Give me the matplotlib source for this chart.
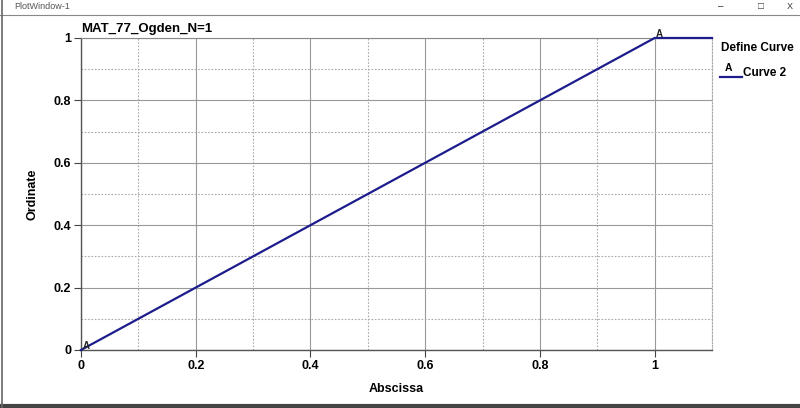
import matplotlib
matplotlib.use("Agg")
import matplotlib.pyplot as plt
from matplotlib.ticker import MultipleLocator

plt.rcParams['font.family'] = ['Liberation Sans', 'DejaVu Sans']

# curve data
curve_x = [0.0, 1.0, 1.1]
curve_y = [0.0, 1.0, 1.0]
label_pts = [(0.0, 0.0), (1.0, 1.0)]
x_ticks = [0, 0.2, 0.4, 0.6, 0.8, 1]
x_tick_labels = ["0", "0.2", "0.4", "0.6", "0.8", "1"]
y_ticks = [0, 0.2, 0.4, 0.6, 0.8, 1]
y_tick_labels = ["0", "0.2", "0.4", "0.6", "0.8", "1"]

col = "#1c1c8c"

fig = plt.figure(figsize=(8, 4.08), dpi=100)

# window chrome
fig.text(0.018, 0.985, "PlotWindow-1", fontsize=6.5, color="#555555", va="center")
fig.text(0.897, 0.985, "\u2013", fontsize=7, color="#333333", va="center")
fig.text(0.947, 0.985, "\u25a1", fontsize=7, color="#333333", va="center")
fig.text(0.984, 0.985, "X", fontsize=6.5, color="#333333", va="center")
fig.add_artist(plt.Line2D([0, 1], [0.963, 0.963], color="#888888", lw=0.8))
fig.add_artist(plt.Line2D([0, 1], [0.006, 0.006], color="#444444", lw=3))
fig.add_artist(plt.Line2D([0.002, 0.002], [0, 1], color="#666666", lw=1.2))

ax = fig.add_axes([0.10125, 0.1422, 0.78875, 0.7647])
ax.plot(curve_x, curve_y, color=col, lw=1.6, zorder=5, clip_on=False)
for px, py in label_pts:
    ax.annotate("A", (px, py), xytext=(1, 1), textcoords="offset points",
                fontsize=7, color="#222222", fontweight="bold", zorder=6)

ax.set_xlim(0, 1.1)
ax.set_ylim(0, 1)
ax.set_xticks(x_ticks)
ax.set_xticklabels(x_tick_labels)
ax.set_yticks(y_ticks)
ax.set_yticklabels(y_tick_labels)
ax.xaxis.set_minor_locator(MultipleLocator(0.1))
ax.yaxis.set_minor_locator(MultipleLocator(0.1))

ax.grid(which="major", color="#999999", lw=0.8, ls="-")
ax.grid(which="minor", color="#aaaaaa", lw=0.8, ls=(0, (1.5, 1.5)))

for s in ["left", "bottom"]:
    ax.spines[s].set_color("#555555")
    ax.spines[s].set_linewidth(1.0)
ax.spines["top"].set_color("#888888")
ax.spines["top"].set_linewidth(0.8)
ax.spines["right"].set_color("#aaaaaa")
ax.spines["right"].set_linestyle((0, (1.5, 1.5)))
ax.spines["right"].set_linewidth(0.8)

ax.tick_params(which="major", direction="out", length=5, color="#444444",
               labelsize=9, pad=2)
ax.tick_params(which="minor", length=0)
for t in ax.get_xticklabels() + ax.get_yticklabels():
    t.set_fontweight("bold")

ax.set_xlabel("Abscissa", fontsize=9, fontweight="bold", labelpad=8)
ax.set_ylabel("Ordinate", fontsize=9, fontweight="bold", labelpad=11)
ax.set_title("MAT_77_Ogden_N=1", fontsize=9.5, fontweight="bold", loc="left",
             pad=4)

# legend
fig.text(0.901, 0.882, "Define Curve", fontsize=8.5, fontweight="bold",
         va="center")
fig.add_artist(plt.Line2D([0.900, 0.928], [0.812, 0.812], color=col, lw=1.6))
fig.text(0.906, 0.822, "A", fontsize=7.5, fontweight="bold", va="bottom")
fig.text(0.929, 0.822, "Curve 2", fontsize=8.5, fontweight="bold", va="center")

fig.savefig("out.png", dpi=100)
